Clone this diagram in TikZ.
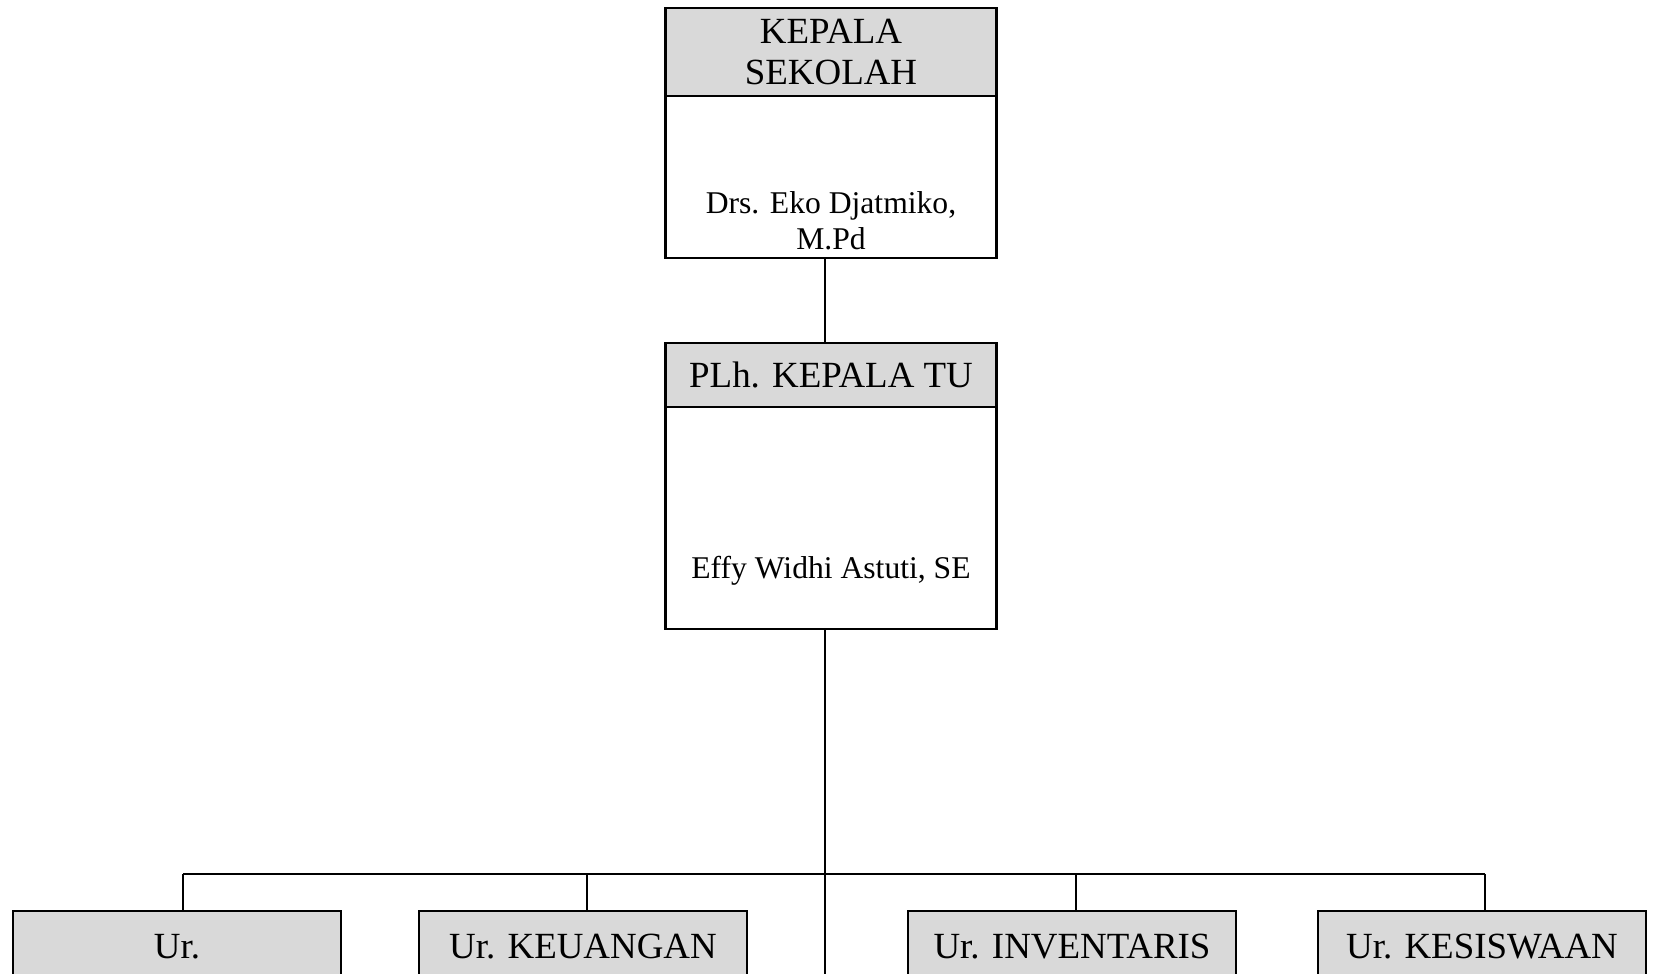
\documentclass[tikz,border=0pt]{standalone}
\usepackage{fontspec}
\setmainfont{Liberation Serif}
\usetikzlibrary{positioning,calc}
\definecolor{OrgGray}{RGB}{217,217,217}
\tikzset{
  org/head/.style={
    draw=black,
    line width=0.6pt,
    fill=OrgGray,
    align=center,
    minimum width=3.31cm,
    inner sep=0pt,
    outer sep=0pt,
    font=\fontsize{10.5}{11.7}\selectfont
  },
  org/body/.style={
    draw=black,
    line width=0.6pt,
    fill=white,
    minimum width=3.31cm,
    inner sep=0pt,
    outer sep=0pt
  },
  org/name/.style={align=center, inner sep=0pt, font=\fontsize{9}{10.2}\selectfont},
  org/unit/.style={
    draw=black,
    line width=0.6pt,
    fill=OrgGray,
    minimum width=3.28cm,
    minimum height=0.72cm,
    inner sep=0pt,
    outer sep=0pt,
    font=\fontsize{10.5}{11.7}\selectfont
  },
  org/line/.style={draw=black, line width=0.5pt}
}

\begin{document}
\begin{tikzpicture}[x=1cm,y=1cm]
  \useasboundingbox (0,0) rectangle (16.53,-9.74);
  % kepala sekolah
  \node[org/head, minimum height=0.88cm, anchor=north] (kshead) at (8.31,-0.08) {KEPALA\\SEKOLAH};
  \node[org/body, minimum height=1.62cm, below=0pt of kshead] (ksbody) {};
  \node[org/name] (ksname) at (8.31,-2.205) {Drs. Eko Djatmiko,\\M.Pd};
  % plh kepala tu
  \node[org/head, minimum height=0.64cm, anchor=north] (tuhead) at (8.31,-3.43) {PLh. KEPALA TU};
  \node[org/body, minimum height=2.22cm, below=0pt of tuhead] (tubody) {};
  \node[org/name] (tuname) at (8.31,-5.71) {Effy Widhi Astuti, SE};

  \coordinate (spine) at (8.25,-9.80);
  \coordinate (busL) at (1.83,-8.74);
  \coordinate (busR) at (14.85,-8.74);
  \draw[org/line] (ksbody.south -| spine) -- (tuhead.north -| spine);
  \draw[org/line] (tubody.south -| spine) -- (spine);
  \draw[org/line] (busL) -- (busR);

  \foreach \cx/\sx/\name/\lab in {1.77/1.83/urumum/Ur.,5.83/5.87/urkeu/Ur. KEUANGAN,10.72/10.76/urinv/Ur. INVENTARIS,14.82/14.85/ursis/Ur. KESISWAAN}{
    \node[org/unit, anchor=north] (\name) at (\cx,-9.11) {\lab};
    \coordinate (stub) at (\sx,-8.74);
    \draw[org/line] (stub) -- (stub |- \name.north);
  }
\end{tikzpicture}
\end{document}
